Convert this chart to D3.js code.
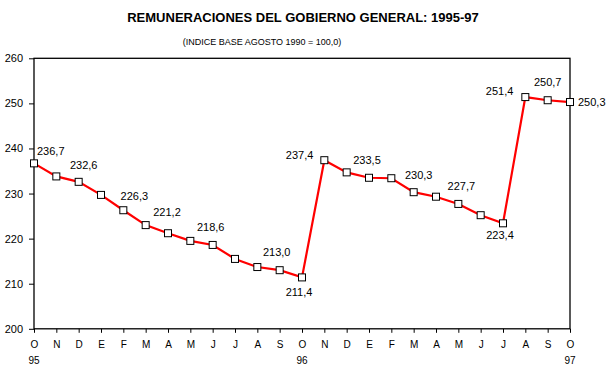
<!DOCTYPE html>
<html><head><meta charset="utf-8">
<script src="https://cdn.jsdelivr.net/npm/d3@7"></script>
<style>body{margin:0;background:#fff}svg{display:block;font-family:"Liberation Sans",Arial,sans-serif}</style>
</head><body><svg id="c" width="611" height="379"></svg>
<script>
const months = ["O","N","D","E","F","M","A","M","J","J","A","S","O","N","D","E","F","M","A","M","J","J","A","S","O"];
const yearLabels = {0:"95",12:"96",24:"97"};
const values = [236.7,233.8,232.6,229.7,226.3,223.0,221.2,219.5,218.6,215.5,213.7,213.0,211.4,237.4,234.7,233.5,233.4,230.3,229.3,227.7,225.2,223.4,251.4,250.7,250.3];
const labeledIdx = [0,2,4,6,8,11,12,13,15,17,19,21,22,23,24];
const yTicks = [200,210,220,230,240,250,260];
const title = "REMUNERACIONES DEL GOBIERNO GENERAL: 1995-97";
const subtitle = "(INDICE BASE AGOSTO 1990 = 100,0)";
// label placement (layout, not data)
const labelPlace = {0:[3,-8,"start"],2:[5,-13,"middle"],4:[11,-10,"middle"],6:[-1,-17,"middle"],8:[-2,-14,"middle"],11:[-3,-14,"middle"],12:[-3,19,"middle"],13:[-11,-1,"end"],15:[-2,-14,"middle"],17:[5,-13,"middle"],19:[3,-14,"middle"],21:[-3,16,"middle"],22:[-12,-2,"end"],23:[0,-14,"middle"],24:[8,4,"start"]};

const svg = d3.select("#c");
const x0=34, x1=570, yTop=58.3, yBot=328.8;
const x = d3.scaleLinear().domain([0,months.length-1]).range([x0,x1]);
const y = d3.scaleLinear().domain([200,260]).range([yBot,yTop]);

svg.append("text").attr("x",303).attr("y",21.5).attr("text-anchor","middle")
  .attr("font-weight","bold").attr("font-size",13).text(title);
svg.append("text").attr("x",262).attr("y",45).attr("text-anchor","middle")
  .attr("font-size",9).text(subtitle);

// frame
svg.append("rect").attr("x",x0).attr("y",yTop).attr("width",x1-x0).attr("height",yBot-yTop)
  .attr("fill","none").attr("stroke","#000").attr("stroke-width",1.3);

const yAxis = d3.axisLeft(y).tickValues(yTicks).tickSize(5).tickPadding(6).tickFormat(d3.format("d"));
const gy = svg.append("g").attr("transform",`translate(${x0},0)`).call(yAxis);
gy.select(".domain").remove();
gy.selectAll("text").attr("font-size",11).attr("font-family","Liberation Sans, Arial, sans-serif");

const xAxis = d3.axisBottom(x).tickValues(d3.range(months.length)).tickSize(4).tickPadding(8).tickFormat(i=>months[i]);
const gx = svg.append("g").attr("transform",`translate(0,${yBot})`).call(xAxis);
gx.select(".domain").remove();
gx.selectAll("text").attr("font-size",10).attr("font-family","Liberation Sans, Arial, sans-serif");
Object.entries(yearLabels).forEach(([i,t])=>{
  svg.append("text").attr("x",x(+i)).attr("y",yBot+35.5).attr("text-anchor","middle").attr("font-size",10).text(t);
});

const line = d3.line().x((d,i)=>x(i)).y(d=>y(d));
svg.append("path").datum(values).attr("d",line).attr("fill","none").attr("stroke","#ff0000").attr("stroke-width",2.2);

svg.selectAll("rect.m").data(values).enter().append("rect").attr("class","m")
  .attr("x",(d,i)=>x(i)-3.5).attr("y",d=>y(d)-3.5).attr("width",7).attr("height",7)
  .attr("fill","#fff").attr("stroke","#000").attr("stroke-width",1);

svg.selectAll("text.lbl").data(labeledIdx).enter().append("text").attr("class","lbl")
  .attr("x",i=>x(i)+labelPlace[i][0]).attr("y",i=>y(values[i])+labelPlace[i][1])
  .attr("text-anchor",i=>labelPlace[i][2]).attr("font-size",11)
  .text(i=>d3.format(".1f")(values[i]).replace(".",","));
</script></body></html>
